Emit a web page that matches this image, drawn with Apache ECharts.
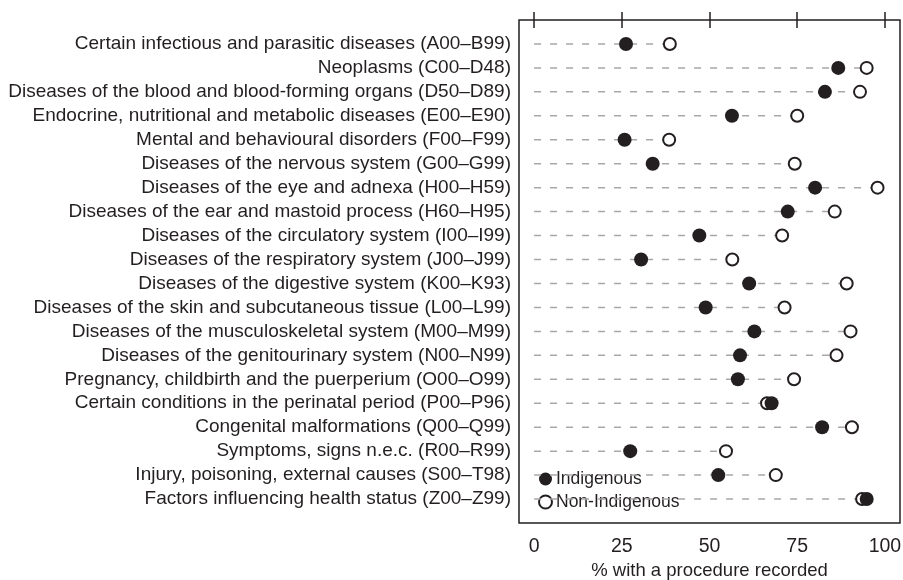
<!DOCTYPE html>
<html lang="en">
<head>
    <meta charset="UTF-8">
    <title>Procedures recorded</title>
    <style>
        body { margin: 0; background: #fff; }
        .main { width: 903px; height: 580px; }
    </style>
</head>
<body>
<div class="main"></div>
<script src="https://cdn.jsdelivr.net/npm/echarts@6/dist/echarts.min.js"></script>
<script>
    // chapter names, top to bottom
    var categories = [
        'Certain infectious and parasitic diseases (A00–B99)',
        'Neoplasms (C00–D48)',
        'Diseases of the blood and blood-forming organs (D50–D89)',
        'Endocrine, nutritional and metabolic diseases (E00–E90)',
        'Mental and behavioural disorders (F00–F99)',
        'Diseases of the nervous system (G00–G99)',
        'Diseases of the eye and adnexa (H00–H59)',
        'Diseases of the ear and mastoid process (H60–H95)',
        'Diseases of the circulatory system (I00–I99)',
        'Diseases of the respiratory system (J00–J99)',
        'Diseases of the digestive system (K00–K93)',
        'Diseases of the skin and subcutaneous tissue (L00–L99)',
        'Diseases of the musculoskeletal system (M00–M99)',
        'Diseases of the genitourinary system (N00–N99)',
        'Pregnancy, childbirth and the puerperium (O00–O99)',
        'Certain conditions in the perinatal period (P00–P96)',
        'Congenital malformations (Q00–Q99)',
        'Symptoms, signs n.e.c. (R00–R99)',
        'Injury, poisoning, external causes (S00–T98)',
        'Factors influencing health status (Z00–Z99)'
    ];
    var indigenous = [26.2, 86.7, 82.9, 56.4, 25.8, 33.8, 80.1, 72.3, 47.1, 30.5,
                      61.3, 48.9, 62.8, 58.7, 58.1, 67.7, 82.1, 27.4, 52.5, 94.8];
    var nonIndigenous = [38.7, 94.8, 92.9, 75.0, 38.5, 74.3, 97.9, 85.7, 70.7, 56.5,
                         89.1, 71.4, 90.2, 86.2, 74.1, 66.4, 90.6, 54.7, 68.9, 93.5];
    var xTicks = [0, 25, 50, 75, 100];

    var ink = '#231f20';
    var font = '"Liberation Sans", Arial, sans-serif';

    var myChart = echarts.init(document.getElementsByClassName('main')[0]);

    // rows are numbered 1..20 on a value axis
    var indData = indigenous.map(function (v, i) { return [v, i + 1]; });
    var nonData = nonIndigenous.map(function (v, i) { return [v, i + 1]; });
    var guideData = indigenous.map(function (v, i) {
        return [0, Math.max(v, nonIndigenous[i]), i + 1];
    });

    var option = {
        animation: false,
        textStyle: { fontFamily: font, color: ink },
        grid: {
            left: 519, right: 3, top: 20, bottom: 57,
            outerBoundsMode: 'none',
            containLabel: false,
            show: true, borderColor: ink, borderWidth: 1.5
        },
        legend: {
            orient: 'vertical',
            left: 533, top: 465,
            itemWidth: 13, itemHeight: 13, itemGap: 5,
            data: ['Indigenous', 'Non-Indigenous'],
            textStyle: { fontFamily: font, fontSize: 17.5, color: ink, padding: [0, 0, 0, -1] }
        },
        xAxis: [{
            type: 'value',
            position: 'bottom',
            min: -4.3, max: 104.3,
            axisLine: { show: false },
            axisTick: { show: true, length: 8, lineStyle: { color: ink, width: 1.5 }, customValues: xTicks },
            axisLabel: { fontSize: 19.5, color: ink, margin: 14, customValues: xTicks },
            splitLine: { show: false },
            name: '% with a procedure recorded',
            nameLocation: 'middle',
            nameGap: 37,
            nameTextStyle: { fontSize: 18.5, color: ink, fontFamily: font }
        }, {
            type: 'value',
            position: 'top',
            min: -4.3, max: 104.3,
            axisLine: { show: false },
            axisTick: { show: true, length: 8, lineStyle: { color: ink, width: 1.5 }, customValues: xTicks },
            axisLabel: { show: false },
            splitLine: { show: false }
        }],
        yAxis: {
            type: 'value',
            inverse: true,
            min: 0, max: 21, interval: 1,
            axisLine: { show: false },
            axisTick: { show: false },
            splitLine: { show: false },
            axisLabel: {
                fontSize: 19, color: ink, margin: 8,
                formatter: function (v) { return categories[v - 1] || ''; }
            }
        },
        series: [{
            name: 'guide',
            type: 'custom',
            z: 5,
            silent: true,
            encode: { x: [0, 1], y: 2 },
            renderItem: function (params, api) {
                var a = api.coord([api.value(0), api.value(2)]);
                var b = api.coord([api.value(1), api.value(2)]);
                return {
                    type: 'line',
                    shape: { x1: a[0], y1: a[1], x2: b[0], y2: b[1] },
                    style: { stroke: '#a8a8a8', lineWidth: 1.5, lineDash: [7, 9] }
                };
            },
            data: guideData
        }, {
            name: 'Non-Indigenous',
            type: 'scatter',
            z: 6,
            symbol: 'circle',
            symbolSize: 12,
            itemStyle: { color: '#fff', borderColor: ink, borderWidth: 2, opacity: 1 },
            data: nonData
        }, {
            name: 'Indigenous',
            type: 'scatter',
            z: 7,
            symbol: 'circle',
            symbolSize: 14,
            itemStyle: { color: ink, opacity: 1 },
            data: indData
        }]
    };

    myChart.setOption(option);
</script>
</body>
</html>
